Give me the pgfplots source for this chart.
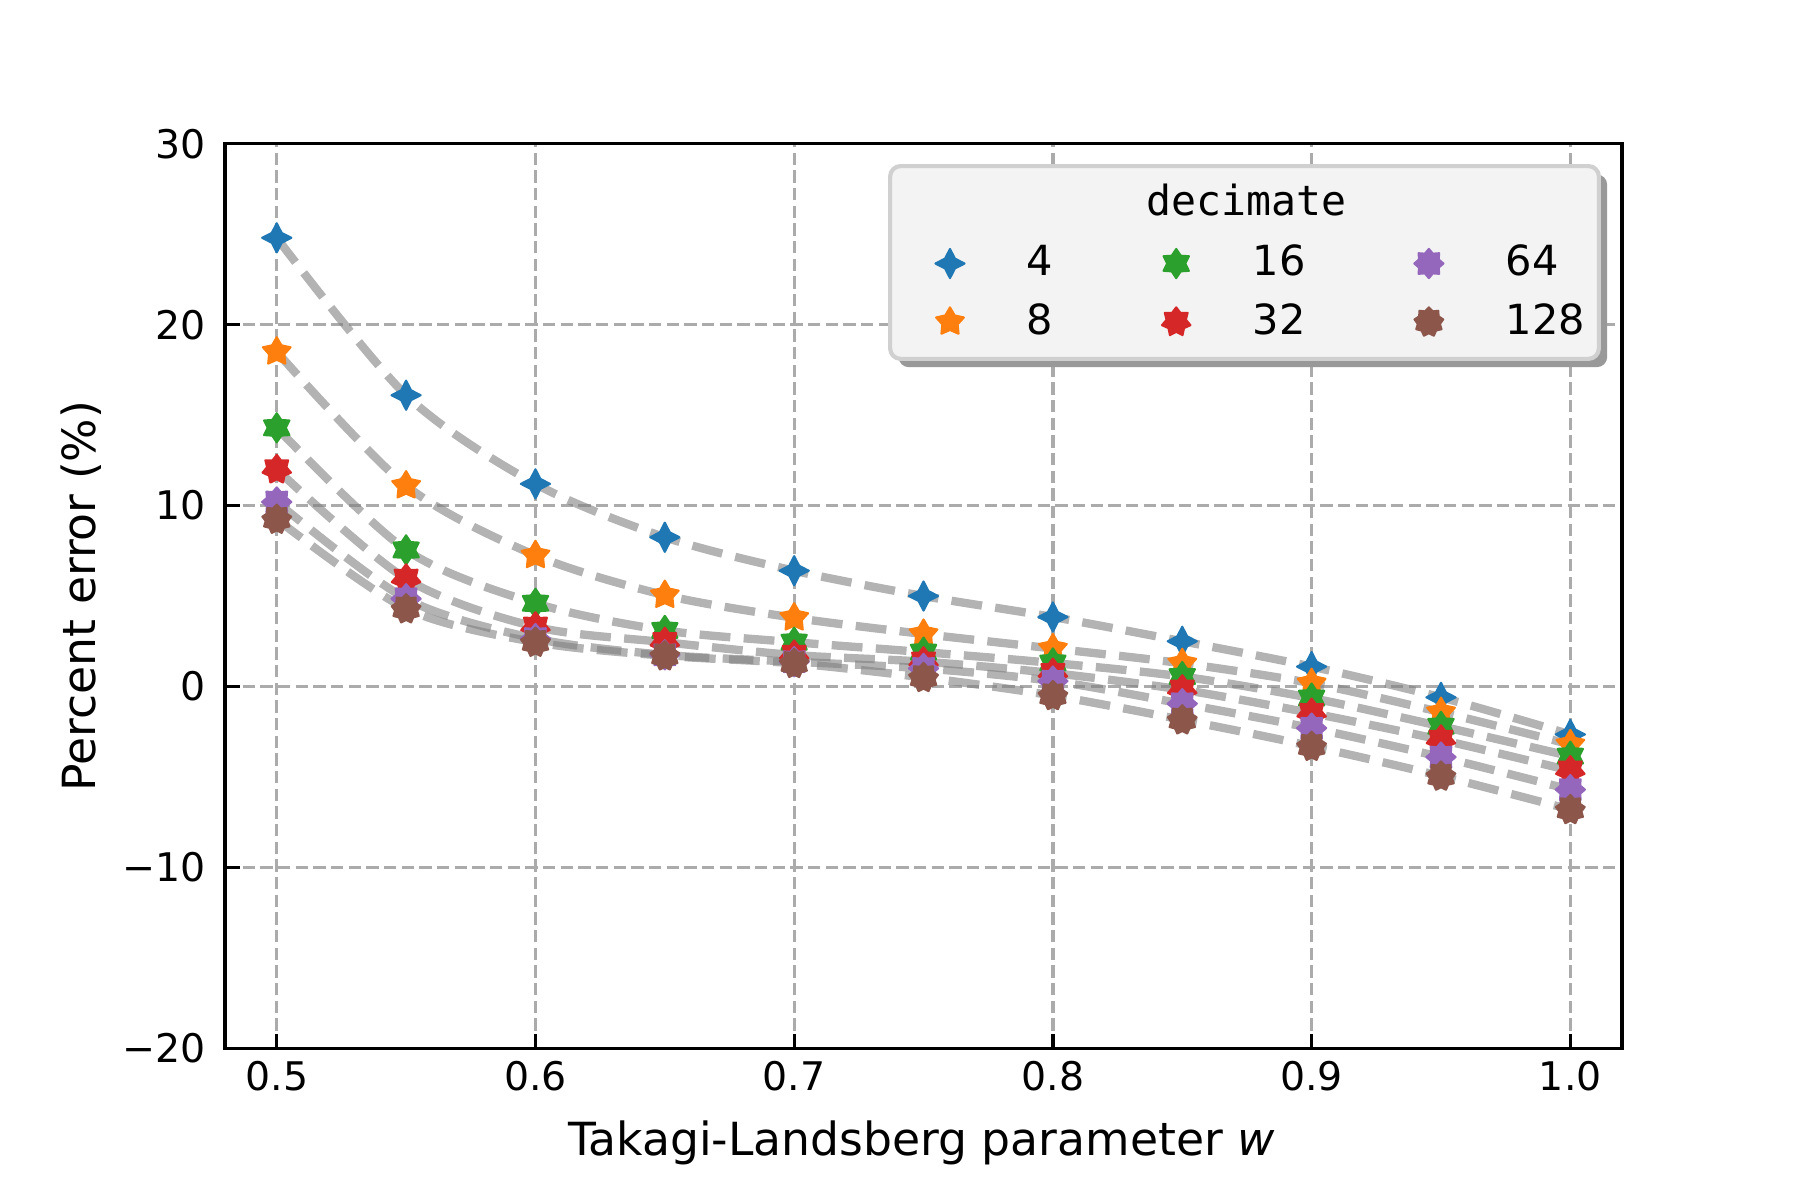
\documentclass[border=0pt]{standalone}
\usepackage{fontspec}
\setmainfont{DejaVu Sans}
\setmonofont{DejaVu Sans Mono}
\usepackage{pgfplots}
\pgfplotsset{compat=1.18}

\definecolor{c1}{HTML}{1F77B4}
\definecolor{c2}{HTML}{FF7F0E}
\definecolor{c3}{HTML}{2CA02C}
\definecolor{c4}{HTML}{D62728}
\definecolor{c5}{HTML}{9467BD}
\definecolor{c6}{HTML}{8C564B}
\definecolor{gridgray}{HTML}{ABABAB}
\definecolor{legfill}{HTML}{F3F3F3}
\definecolor{legedge}{HTML}{D0D0D0}
\definecolor{legshadow}{HTML}{999999}

\newcount\stari
\newcommand\starmarkpath[2]{%
  \pgfpathmoveto{\pgfpointpolar{90}{\pgfplotmarksize}}%
  \stari=1
  \loop
    \pgfmathsetmacro\starang{90+180*\the\stari/#1}%
    \ifodd\stari
      \pgfpathlineto{\pgfpointpolar{\starang}{#2\pgfplotmarksize}}%
    \else
      \pgfpathlineto{\pgfpointpolar{\starang}{\pgfplotmarksize}}%
    \fi
    \advance\stari by 1
  \ifnum\stari<\numexpr2*#1\relax
  \repeat
  \pgfpathclose
}
\pgfdeclareplotmark{star4}{\pgfsetroundjoin\starmarkpath{4}{0.48}\pgfusepathqfillstroke}
\pgfdeclareplotmark{star5}{\pgfsetroundjoin\starmarkpath{5}{0.55}\pgfusepathqfillstroke}
\pgfdeclareplotmark{star6}{\pgfsetroundjoin\starmarkpath{6}{0.62}\pgfusepathqfillstroke}
\pgfdeclareplotmark{star7}{\pgfsetroundjoin\starmarkpath{7}{0.68}\pgfusepathqfillstroke}
\pgfdeclareplotmark{star8}{\pgfsetroundjoin\starmarkpath{8}{0.73}\pgfusepathqfillstroke}
\pgfdeclareplotmark{star9}{\pgfsetroundjoin\starmarkpath{9}{0.77}\pgfusepathqfillstroke}

\pgfplotsset{
  mk/.style={only marks, mark=#1, mark size=3.5bp, forget plot},
  fitline/.style={smooth, color=gray, opacity=0.6, line width=2bp,
    dash pattern=on 7.4bp off 3.2bp, forget plot, mark=none},
}

\begin{document}
\begin{tikzpicture}
\useasboundingbox (0,0) rectangle (432bp,288bp);
\begin{axis}[
  at={(54bp,36.4bp)}, anchor=south west,
  width=335.3bp, height=217.1bp, scale only axis,
  xmin=0.48, xmax=1.02, ymin=-20, ymax=30,
  xtick={0.5,0.6,0.7,0.8,0.9,1.0},
  xticklabels={0.5,0.6,0.7,0.8,0.9,1.0},
  ytick={-20,-10,0,10,20,30},
  yticklabels={−20,−10,0,10,20,30},
  tick align=inside, tick pos=left,
  major tick length=3.5bp,
  every tick/.style={black, line width=0.8bp},
  axis line style={line width=0.8bp},
  grid=major,
  grid style={color=gridgray, line width=0.8bp, dash pattern=on 2.96bp off 1.28bp},
  ticklabel style={font=\fontsize{9.5}{11}\selectfont},
  xticklabel style={inner sep=0pt, anchor=north, yshift=-2.9bp},
  yticklabel style={inner sep=0pt, anchor=east, xshift=-4.4bp},
  xlabel={Takagi-Landsberg parameter \textit{w}},
  ylabel={Percent error (\%)},
  label style={font=\fontsize{11}{13}\selectfont},
  xlabel style={at={(axis description cs:0.4985,-0.1185)}, anchor=base},
  ylabel style={at={(axis description cs:-0.0927,0.5)}, anchor=base},
  legend columns=3,
  legend cell align=left,
  legend style={draw=none, fill=none, inner sep=0pt, outer sep=0pt,
    at={(0.5085,0.8353)}, anchor=west,
    font=\fontsize{10}{12}\selectfont, row sep=1.15pt,
    /tikz/every odd column/.append style={column sep=13pt},
    /tikz/every even column/.append style={column sep=24.2pt}},
]

% legend box
\fill[legshadow, rounded corners=2.5bp, xshift=2bp, yshift=-2bp]
  (rel axis cs:0.4761,0.7622) rectangle (rel axis cs:0.9834,0.9753);
\filldraw[fill=legfill, draw=legedge, line width=1bp, rounded corners=2.5bp]
  (rel axis cs:0.4761,0.7622) rectangle (rel axis cs:0.9834,0.9753);
\node[font=\ttfamily\fontsize{10}{12}\selectfont, inner sep=0pt] at (rel axis cs:0.731,0.938) {decimate};

% markers
\addplot[mk=star4, color=c1, mark options={fill=c1, draw=c1, line width=0.5bp}] coordinates {
 (0.50,24.8) (0.55,16.1) (0.60,11.2) (0.65,8.25) (0.70,6.4) (0.75,5.0)
 (0.80,3.84) (0.85,2.5) (0.90,1.1) (0.95,-0.6) (1.00,-2.65)};
\addplot[mk=star5, color=c2, mark options={fill=c2, draw=c2, line width=0.5bp}] coordinates {
 (0.50,18.5) (0.55,11.1) (0.60,7.25) (0.65,5.05) (0.70,3.8) (0.75,2.9)
 (0.80,2.1) (0.85,1.28) (0.90,0.18) (0.95,-1.42) (1.00,-3.2)};
\addplot[mk=star6, color=c3, mark options={fill=c3, draw=c3, line width=0.5bp}] coordinates {
 (0.50,14.3) (0.55,7.55) (0.60,4.6) (0.65,3.1) (0.70,2.45) (0.75,1.9)
 (0.80,1.3) (0.85,0.55) (0.90,-0.64) (0.95,-2.2) (1.00,-3.85)};
\addplot[mk=star7, color=c4, mark options={fill=c4, draw=c4, line width=0.5bp}] coordinates {
 (0.50,12.0) (0.55,5.95) (0.60,3.3) (0.65,2.45) (0.70,1.74) (0.75,1.37)
 (0.80,0.74) (0.85,-0.18) (0.90,-1.47) (0.95,-2.95) (1.00,-4.65)};
\addplot[mk=star8, color=c5, mark options={fill=c5, draw=c5, line width=0.5bp}] coordinates {
 (0.50,10.2) (0.55,4.85) (0.60,2.65) (0.65,1.75) (0.70,1.37) (0.75,1.0)
 (0.80,0.3) (0.85,-0.95) (0.90,-2.3) (0.95,-3.9) (1.00,-5.7)};
\addplot[mk=star9, color=c6, mark options={fill=c6, draw=c6, line width=0.5bp}] coordinates {
 (0.50,9.25) (0.55,4.3) (0.60,2.45) (0.65,1.7) (0.70,1.28) (0.75,0.5)
 (0.80,-0.5) (0.85,-1.84) (0.90,-3.3) (0.95,-4.95) (1.00,-6.8)};

% fitted curves
\addplot[fitline] coordinates {
 (0.50,24.8) (0.55,16.1) (0.60,11.2) (0.65,8.25) (0.70,6.4) (0.75,5.0)
 (0.80,3.84) (0.85,2.5) (0.90,1.1) (0.95,-0.6) (1.00,-2.65)};
\addplot[fitline] coordinates {
 (0.50,18.5) (0.55,11.1) (0.60,7.25) (0.65,5.05) (0.70,3.8) (0.75,2.9)
 (0.80,2.1) (0.85,1.28) (0.90,0.18) (0.95,-1.42) (1.00,-3.2)};
\addplot[fitline] coordinates {
 (0.50,14.3) (0.55,7.55) (0.60,4.6) (0.65,3.1) (0.70,2.45) (0.75,1.9)
 (0.80,1.3) (0.85,0.55) (0.90,-0.64) (0.95,-2.2) (1.00,-3.85)};
\addplot[fitline] coordinates {
 (0.50,12.0) (0.55,5.95) (0.60,3.3) (0.65,2.45) (0.70,1.74) (0.75,1.37)
 (0.80,0.74) (0.85,-0.18) (0.90,-1.47) (0.95,-2.95) (1.00,-4.65)};
\addplot[fitline] coordinates {
 (0.50,10.2) (0.55,4.85) (0.60,2.65) (0.65,1.75) (0.70,1.37) (0.75,1.0)
 (0.80,0.3) (0.85,-0.95) (0.90,-2.3) (0.95,-3.9) (1.00,-5.7)};
\addplot[fitline] coordinates {
 (0.50,9.25) (0.55,4.3) (0.60,2.45) (0.65,1.7) (0.70,1.28) (0.75,0.5)
 (0.80,-0.5) (0.85,-1.84) (0.90,-3.3) (0.95,-4.95) (1.00,-6.8)};

% legend (column-wise order as in the reference)
\addlegendimage{only marks, mark=star4, mark size=3.5bp, color=c1, mark options={fill=c1, draw=c1, line width=0.5bp}}
\addlegendentry{4}
\addlegendimage{only marks, mark=star6, mark size=3.5bp, color=c3, mark options={fill=c3, draw=c3, line width=0.5bp}}
\addlegendentry{16}
\addlegendimage{only marks, mark=star8, mark size=3.5bp, color=c5, mark options={fill=c5, draw=c5, line width=0.5bp}}
\addlegendentry{64}
\addlegendimage{only marks, mark=star5, mark size=3.5bp, color=c2, mark options={fill=c2, draw=c2, line width=0.5bp}}
\addlegendentry{8}
\addlegendimage{only marks, mark=star7, mark size=3.5bp, color=c4, mark options={fill=c4, draw=c4, line width=0.5bp}}
\addlegendentry{32}
\addlegendimage{only marks, mark=star9, mark size=3.5bp, color=c6, mark options={fill=c6, draw=c6, line width=0.5bp}}
\addlegendentry{128}
\end{axis}
\end{tikzpicture}
\end{document}
